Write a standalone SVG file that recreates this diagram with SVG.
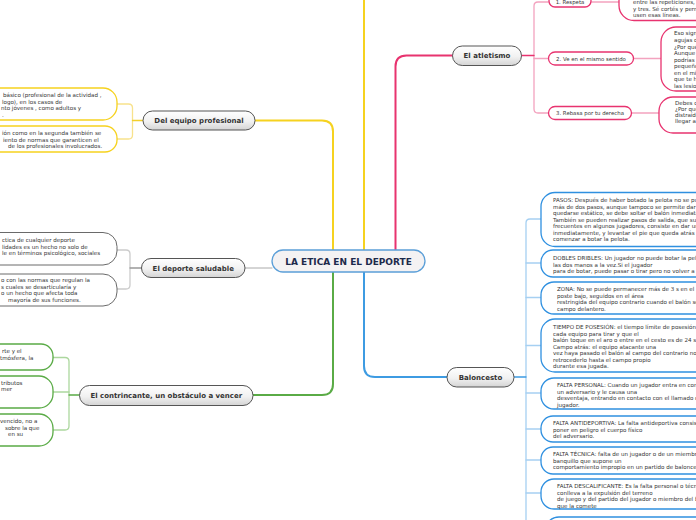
<svg xmlns="http://www.w3.org/2000/svg" width="696" height="520" viewBox="0 0 696 520">
<defs>
<linearGradient id="ng" x1="0" y1="0" x2="0" y2="1">
<stop offset="0" stop-color="#ffffff"/>
<stop offset="0.55" stop-color="#f1f1f1"/>
<stop offset="1" stop-color="#d4d4d4"/>
</linearGradient>
<style>
.main{fill:url(#ng);stroke:#555;stroke-width:1}
.mt{font-family:"DejaVu Sans",Verdana,sans-serif;font-weight:bold;font-size:7px;fill:#333;text-anchor:middle}
.lt{font-family:"DejaVu Sans",Verdana,sans-serif;font-size:5.55px;fill:#333}
.st{font-family:"DejaVu Sans",Verdana,sans-serif;font-size:5.4px;fill:#333;text-anchor:middle}
.yl{fill:#fff;stroke:#f6d21f;stroke-width:1.3}
.gl{fill:#fff;stroke:#6a6a6a;stroke-width:1}
.grl{fill:#fff;stroke:#5aab46;stroke-width:1.3}
.pl{fill:#fff;stroke:#e8336f;stroke-width:1.3}
.bl{fill:#fff;stroke:#2f90e0;stroke-width:1.3}
.c{fill:none;stroke-linecap:round}
</style>
</defs>

<g id="connectors">
<path class="c" d="M333,250 V131.5 Q333,120.5 322,120.5 H255" stroke="#f6d21f" stroke-width="2"/>
<path class="c" d="M364,250 V-2" stroke="#f6d21f" stroke-width="2"/>
<path class="c" d="M395.5,250 V66.5 Q395.5,55.5 406.5,55.5 H452.5" stroke="#e8336f" stroke-width="2"/>
<path class="c" d="M333,272 V384 Q333,395 322,395 H253" stroke="#5aab46" stroke-width="2"/>
<path class="c" d="M364,272 V366 Q364,377 375,377 H447" stroke="#3d9be2" stroke-width="2"/>
<path class="c" d="M245,268 H272" stroke="#aaaaaa" stroke-width="1"/>

<path class="c" d="M117,104 H128.5 Q132.5,104 132.5,108 V135 Q132.5,139 128.5,139 H117" stroke="#f8e28c" stroke-width="1.3"/>
<path class="c" d="M132.5,120.5 H143" stroke="#f3cf2a" stroke-width="1.3"/>

<path class="c" d="M117,250 H126 Q130,250 130,254 V285 Q130,289 126,289 H117" stroke="#cccccc" stroke-width="1.3"/>
<path class="c" d="M130,268 H141.5" stroke="#999999" stroke-width="1.3"/>

<path class="c" d="M53,357.5 H65 Q69,357.5 69,361.5 V426 Q69,430 65,430 H53" stroke="#acd79e" stroke-width="1.3"/>
<path class="c" d="M53,392 H69" stroke="#acd79e" stroke-width="1.3"/>
<path class="c" d="M69,395 H79.5" stroke="#5aab46" stroke-width="1.3"/>

<path class="c" d="M549,2 H538 Q534,2 534,6 V109 Q534,113 538,113 H549" stroke="#f3a3bf" stroke-width="1.3"/>
<path class="c" d="M534,58.5 H549" stroke="#f3a3bf" stroke-width="1.3"/>
<path class="c" d="M521.5,55.5 H534" stroke="#e8336f" stroke-width="1.3"/>
<path class="c" d="M591,2 H619" stroke="#f3a3bf" stroke-width="1.5"/>
<path class="c" d="M633,58.5 H661" stroke="#f3a3bf" stroke-width="1.5"/>
<path class="c" d="M631,113 H659" stroke="#f3a3bf" stroke-width="1.5"/>

<path class="c" d="M541,219 H530 Q526,219 526,223 V522" stroke="#a6d0f2" stroke-width="1.3"/>
<path class="c" d="M526,263 H541 M526,297.5 H541 M526,345.5 H541 M526,393 H541 M526,429 H541 M526,460 H541 M526,493 H541" stroke="#a6d0f2" stroke-width="1.3"/>
<path class="c" d="M514,377 H526" stroke="#3d9be2" stroke-width="1.3"/>
</g>

<g id="central">
<rect x="272" y="250" width="153" height="22" rx="11" fill="#f4f2f3" stroke="#5b9fd8" stroke-width="1.3"/>
<text x="348.5" y="264.5" font-family="DejaVu Sans,Verdana,sans-serif" font-weight="bold" font-size="9" fill="#1d2a4b" text-anchor="middle">LA ETICA EN EL DEPORTE</text>
</g>

<g id="n-equipo">
<rect class="main" x="143" y="111" width="112" height="19" rx="9.5"/>
<text class="mt" x="199" y="123">Del equipo profesional</text>
</g>
<g id="n-saludable">
<rect class="main" x="141.5" y="258.5" width="103.5" height="19" rx="9.5"/>
<text class="mt" x="193.3" y="270.5">El deporte saludable</text>
</g>
<g id="n-contrincante">
<rect class="main" x="79.5" y="385.5" width="173.5" height="20" rx="10"/>
<text class="mt" x="166.3" y="398">El contrincante, un obstáculo a vencer</text>
</g>
<g id="n-atletismo">
<rect class="main" x="452.5" y="46" width="69" height="19.5" rx="9.75"/>
<text class="mt" x="487" y="58.3">El atletismo</text>
</g>
<g id="n-baloncesto">
<rect class="main" x="447" y="367.5" width="67" height="19.5" rx="9.75"/>
<text class="mt" x="480.5" y="380">Baloncesto</text>
</g>

<g id="leaf-equipo-1">
<rect class="yl" x="-30" y="88" width="147" height="32" rx="14"/>
<text class="lt" x="3" y="97">básico (profesional de la actividad ,</text>
<text class="lt" x="2" y="103.5">logo), en los casos de</text>
<text class="lt" x="1" y="110">nto jóvenes , como adultos y</text>
<text class="lt" x="2" y="116.5">.</text>
</g>
<g id="leaf-equipo-2">
<rect class="yl" x="-30" y="126" width="147" height="26" rx="12"/>
<text class="lt" x="2" y="134.7">ión como en la segunda también se</text>
<text class="lt" x="3" y="141.5">iento de normas que garanticen el</text>
<text class="lt" x="8" y="148">de los profesionales involucrados.</text>
</g>

<g id="leaf-saludable-1">
<rect class="gl" x="-30" y="232.5" width="147" height="32.5" rx="14"/>
<text class="lt" x="2" y="242">ctica de cualquier deporte</text>
<text class="lt" x="2" y="248.5">lidades es un hecho no solo de</text>
<text class="lt" x="2" y="255">le en términos psicológico, sociales</text>
</g>
<g id="leaf-saludable-2">
<rect class="gl" x="-30" y="274" width="147" height="32" rx="14"/>
<text class="lt" x="1" y="282">o con las normas que regulan la</text>
<text class="lt" x="1" y="288.5">s cuales se desarticularía y</text>
<text class="lt" x="1" y="295">o un hecho que afecta toda</text>
<text class="lt" x="8" y="301.5">mayoría de sus funciones.</text>
</g>

<g id="leaf-contrincante-1">
<rect class="grl" x="-100" y="344" width="153" height="26" rx="12"/>
<text class="lt" x="2" y="352.7">rte y el</text>
<text class="lt" x="0" y="360">tmósfera, la</text>
</g>
<g id="leaf-contrincante-2">
<rect class="grl" x="-100" y="376" width="153" height="32" rx="14"/>
<text class="lt" x="1" y="384.7">tributos</text>
<text class="lt" x="1" y="391">mer</text>
</g>
<g id="leaf-contrincante-3">
<rect class="grl" x="-100" y="414" width="153" height="32" rx="14"/>
<text class="lt" x="0" y="423">vencido, no a</text>
<text class="lt" x="5" y="429.5">sobre la que</text>
<text class="lt" x="8" y="436">en su</text>
</g>

<g id="sub-respeta">
<rect class="pl" x="549" y="-5" width="42" height="12" rx="6"/>
<text class="st" x="570" y="3.8">1. Respeta</text>
</g>
<g id="sub-sentido">
<rect class="pl" x="548.5" y="52" width="85" height="13" rx="6.5"/>
<text class="st" x="591" y="60.5">2. Ve en el mismo sentido</text>
</g>
<g id="sub-rebasa">
<rect class="pl" x="548.5" y="106.5" width="83" height="13" rx="6.5"/>
<text class="st" x="590" y="115">3. Rebasa por tu derecha</text>
</g>

<g id="leaf-respeta">
<rect class="pl" x="619" y="-20" width="120" height="40.5" rx="15"/>
<text class="lt" x="633" y="4">entre las repeticiones, sin</text>
<text class="lt" x="633" y="10.5">y tres. Sé cortés y permite que otros</text>
<text class="lt" x="633" y="17">usen esas líneas.</text>
</g>
<g id="leaf-sentido">
<rect class="pl" x="661" y="27" width="100" height="64" rx="15"/>
<text class="lt" x="674" y="35.3">Eso significa que debes</text>
<text class="lt" x="674" y="42">agujas del reloj.</text>
<text class="lt" x="674" y="48.5">¿Por qué?</text>
<text class="lt" x="674" y="55">Aunque parezca</text>
<text class="lt" x="674" y="61.5">podrías</text>
<text class="lt" x="674" y="68">pequeño</text>
<text class="lt" x="674" y="74.5">en el mismo</text>
<text class="lt" x="674" y="81">que te hará</text>
<text class="lt" x="674" y="87.5">las lesiones.</text>
</g>
<g id="leaf-rebasa">
<rect class="pl" x="659" y="97" width="100" height="36" rx="14"/>
<text class="lt" x="675" y="105">Debes correr</text>
<text class="lt" x="675" y="111">¿Por qué?</text>
<text class="lt" x="675" y="116.5">distraído</text>
<text class="lt" x="675" y="122.5">llegar a</text>
</g>

<g id="leaf-pasos">
<rect class="bl" x="541" y="192.5" width="220" height="54" rx="14"/>
<text class="lt" x="553" y="202">PASOS: Después de haber botado la pelota no se puede dar</text>
<text class="lt" x="553" y="208.5">más de dos pasos, aunque tampoco se permite dar pasos y</text>
<text class="lt" x="553" y="215">quedarse estático, se debe soltar el balón inmediatamente.</text>
<text class="lt" x="553" y="221.5">También se pueden realizar pasos de salida, que suelen ser</text>
<text class="lt" x="553" y="228">frecuentes en algunos jugadores, consiste en dar un paso</text>
<text class="lt" x="553" y="234.5">inmediatamente, y levantar el pie que queda atrás antes de</text>
<text class="lt" x="553" y="241">comenzar a botar la pelota.</text>
</g>
<g id="leaf-dobles">
<rect class="bl" x="541" y="250" width="220" height="27" rx="12"/>
<text class="lt" x="553" y="260">DOBLES DRIBLES: Un jugador no puede botar la pelota con</text>
<text class="lt" x="553" y="266.5">las dos manos a la vez.Si el jugador</text>
<text class="lt" x="553" y="273">para de botar, puede pasar o tirar pero no volver a botar.</text>
</g>
<g id="leaf-zona">
<rect class="bl" x="541" y="282" width="220" height="32" rx="13"/>
<text class="lt" x="557" y="291">ZONA: No se puede permanecer más de 3 s en el</text>
<text class="lt" x="557" y="297.5">poste bajo, seguidos en el área</text>
<text class="lt" x="557" y="304">restringida del equipo contrario cuando el balón se halla en su</text>
<text class="lt" x="557" y="310.5">campo delantero.</text>
</g>
<g id="leaf-tiempo">
<rect class="bl" x="541" y="319" width="220" height="53" rx="14"/>
<text class="lt" x="553" y="329">TIEMPO DE POSESIÓN: el tiempo límite de posesión de</text>
<text class="lt" x="553" y="335.5">cada equipo para tirar y que el</text>
<text class="lt" x="553" y="342">balón toque en el aro o entre en el cesto es de 24 s.</text>
<text class="lt" x="553" y="348.5">Campo atrás: el equipo atacante una</text>
<text class="lt" x="553" y="355">vez haya pasado el balón al campo del contrario no puede</text>
<text class="lt" x="553" y="361.5">retrocederlo hasta el campo propio</text>
<text class="lt" x="553" y="368">durante esa jugada.</text>
</g>
<g id="leaf-personal">
<rect class="bl" x="541" y="378" width="220" height="31" rx="13"/>
<text class="lt" x="557" y="387">FALTA PERSONAL: Cuando un jugador entra en contacto con</text>
<text class="lt" x="557" y="393.5">un adversario y le causa una</text>
<text class="lt" x="557" y="400">desventaja, entrando en contacto con el llamado cilindro del</text>
<text class="lt" x="557" y="406.5">jugador.</text>
</g>
<g id="leaf-antideportiva">
<rect class="bl" x="541" y="416" width="220" height="26" rx="12"/>
<text class="lt" x="553" y="425">FALTA ANTIDEPORTIVA: La falta antideportiva consiste en</text>
<text class="lt" x="553" y="431.5">poner en peligro el cuerpo físico</text>
<text class="lt" x="553" y="438">del adversario.</text>
</g>
<g id="leaf-tecnica">
<rect class="bl" x="541" y="447" width="220" height="27" rx="12"/>
<text class="lt" x="553" y="456">FALTA TÉCNICA: falta de un jugador o de un miembro del</text>
<text class="lt" x="553" y="462.5">banquillo que supone un</text>
<text class="lt" x="553" y="469">comportamiento impropio en un partido de baloncesto.</text>
</g>
<g id="leaf-descalificante">
<rect class="bl" x="541" y="479" width="220" height="30" rx="13"/>
<text class="lt" x="557" y="488">FALTA DESCALIFICANTE: Es la falta personal o técnica que</text>
<text class="lt" x="557" y="494.5">conlleva a la expulsión del terreno</text>
<text class="lt" x="557" y="501">de juego y del partido del jugador o miembro del banquillo</text>
<text class="lt" x="557" y="507.5">que la comete</text>
</g>
<g id="leaf-next">
<rect class="bl" x="545" y="517" width="220" height="40" rx="14"/>
</g>
</svg>
